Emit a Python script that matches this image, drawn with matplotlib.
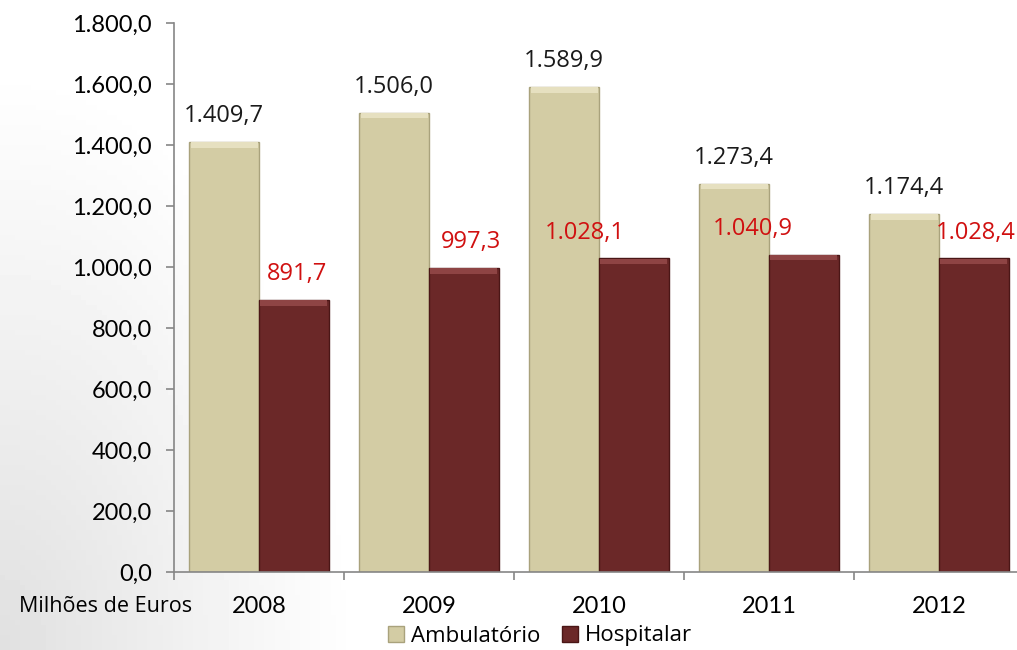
import numpy as np
import matplotlib
matplotlib.use("Agg")
import matplotlib.pyplot as plt
from matplotlib.patches import Patch

years = ["2008", "2009", "2010", "2011", "2012"]
ambulatorio = [1409.7, 1506.0, 1589.9, 1273.4, 1174.4]
hospitalar = [891.7, 997.3, 1028.1, 1040.9, 1028.4]
y_ticks = [0, 200, 400, 600, 800, 1000, 1200, 1400, 1600, 1800]

# horizontal nudge of the red labels (category units), as placed in the original
hosp_label_shift = [0.02, 0.04, -0.29, -0.30, 0.01]


def pt(v):
    # 1.234,5 style (Portuguese)
    s = "{:,.1f}".format(v)
    return s.replace(",", "X").replace(".", ",").replace("X", ".")


plt.rcParams["font.family"] = ["Lato", "DejaVu Sans"]
label_font = ["Open Sans", "DejaVu Sans"]

fig = plt.figure(figsize=(10.17, 6.5), dpi=100)

# light grey shading on the lower left of the background
bg = fig.add_axes([0, 0, 1, 1], zorder=-10)
gx, gy = np.meshgrid(np.linspace(0, 1, 200), np.linspace(0, 1, 130))
shade = np.clip(1 - np.hypot(gx / 0.35, (1 - gy) / 0.9), 0, 1) * 0.12
bg.imshow(1 - shade, cmap="gray", vmin=0, vmax=1, extent=[0, 1, 0, 1], aspect="auto")
bg.axis("off")

ax = fig.add_axes([174 / 1017, 78 / 650, 850 / 1017, 549 / 650])
ax.patch.set_alpha(0)

x = np.arange(len(years))
w = 0.41
amb_col = "#D3CCA4"
hos_col = "#6B2828"

ax.bar(x - w / 2, ambulatorio, w, color=amb_col, edgecolor="#A9A27C", linewidth=1.0)
ax.bar(x + w / 2, hospitalar, w, color=hos_col, edgecolor="#4A1616", linewidth=1.0)

# lighter bevel strip on top of each bar
for xi, a, h, sh in zip(x, ambulatorio, hospitalar, hosp_label_shift):
    ax.bar(xi - w / 2, 18, w * 0.96, bottom=a - 19, color="#E6E0C0", linewidth=0)
    ax.bar(xi + w / 2, 18, w * 0.96, bottom=h - 19, color="#8E4444", linewidth=0)
    ax.text(xi - w / 2, a + 45, pt(a), ha="center", va="bottom",
            fontsize=17, color="#1a1a1a", family=label_font)
    ax.text(xi + w / 2 + sh, h + 45, pt(h), ha="center", va="bottom",
            fontsize=17, color="#D01010", family=label_font, clip_on=False)

ax.set_xlim(-0.5, len(years) - 0.5)
ax.set_ylim(0, 1800)
ax.set_yticks(y_ticks)
ax.set_yticklabels([pt(v) for v in y_ticks], fontsize=17)
ax.set_xticks(np.arange(len(years) + 1) - 0.5)
ax.set_xticklabels([])
ax.tick_params(axis="both", colors="#868686", length=6, width=1.2, labelcolor="black")
ax.tick_params(axis="y", pad=10)
for i, yr in enumerate(years):
    ax.text(i, -0.062, yr, transform=ax.get_xaxis_transform(), ha="center",
            va="center", fontsize=17)
ax.text(-0.5 + 0.105, -0.062, "Milhões de Euros", transform=ax.get_xaxis_transform(),
        ha="right", va="center", fontsize=15.5, family=label_font)

for s in ["top", "right"]:
    ax.spines[s].set_visible(False)
ax.spines["left"].set_color("#868686")
ax.spines["bottom"].set_color("#868686")
ax.spines["left"].set_linewidth(1.2)
ax.spines["bottom"].set_linewidth(1.2)

handles = [Patch(facecolor=amb_col, edgecolor="#A9A27C"),
           Patch(facecolor=hos_col, edgecolor="#4A1616")]
fig.legend(handles, ["Ambulatório", "Hospitalar"], loc="center",
           bbox_to_anchor=(540 / 1017, 1 - 636 / 650), ncol=2, frameon=False,
           handlelength=0.7, handleheight=0.7, handletextpad=0.3,
           columnspacing=1.0, prop={"family": label_font, "size": 16})

fig.savefig("out.png", dpi=100)
